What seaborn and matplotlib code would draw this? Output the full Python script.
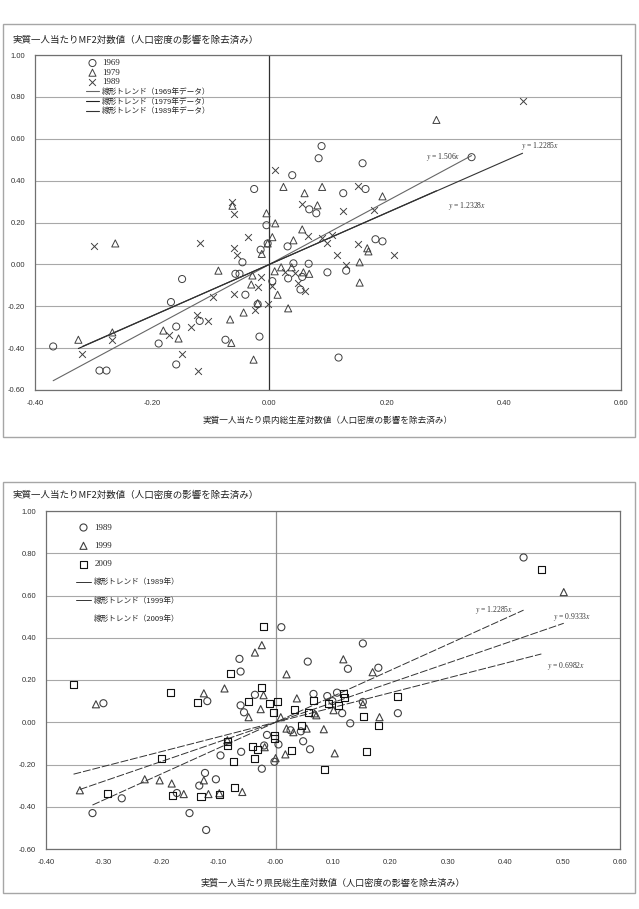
import numpy as np
import seaborn as sns
import matplotlib.pyplot as plt
from matplotlib.patches import Rectangle

# values
x1969 = [-0.369, -0.290, -0.278, -0.149, -0.168, -0.189, -0.159, -0.159, -0.119, -0.075,
         -0.046, -0.058, -0.051, -0.041, -0.026, -0.015, -0.020, 0.005, 0.032, 0.041,
         0.056, 0.067, 0.053, 0.099, 0.131, 0.118, -0.017, 0.089, 0.084, 0.159,
         0.039, 0.126, 0.164, 0.068, 0.080, -0.005, -0.003, 0.031, 0.181, 0.193, 0.345]
y1969 = [-0.392, -0.507, -0.507, -0.070, -0.180, -0.378, -0.297, -0.478, -0.270, -0.360,
         0.010, -0.045, -0.045, -0.145, 0.360, 0.070, -0.190, -0.080, -0.067, 0.005,
         -0.060, 0.003, -0.120, -0.038, -0.030, -0.445, -0.345, 0.565, 0.507, 0.483,
         0.426, 0.340, 0.360, 0.263, 0.244, 0.187, 0.100, 0.086, 0.120, 0.110, 0.512]

x1979 = [-0.326, -0.263, -0.268, -0.181, -0.155, -0.087, -0.067, -0.065, -0.063, -0.044,
         -0.013, -0.029, -0.031, -0.020, 0.032, 0.014, 0.009, 0.020, 0.038, 0.058,
         0.068, 0.154, 0.154, 0.169, -0.027, 0.024, 0.090, 0.060, 0.193, 0.082,
         -0.005, 0.010, 0.005, -0.003, 0.056, 0.041, 0.167, 0.285]
y1979 = [-0.360, 0.100, -0.325, -0.316, -0.354, -0.030, -0.263, -0.375, 0.280, -0.230,
         0.050, -0.053, -0.096, -0.185, -0.210, -0.145, -0.033, -0.014, -0.014, -0.038,
         -0.045, 0.010, -0.087, 0.062, -0.455, 0.370, 0.370, 0.340, 0.325, 0.282,
         0.244, 0.196, 0.130, 0.100, 0.167, 0.115, 0.077, 0.690]

x1989 = [-0.319, -0.300, -0.268, -0.172, -0.150, -0.119, -0.133, -0.123, -0.104, -0.121,
         -0.096, -0.063, -0.061, -0.061, -0.055, -0.060, -0.036, -0.015, -0.020, -0.024,
         -0.002, 0.005, 0.026, 0.044, 0.048, 0.060, 0.116, 0.130, 0.213, 0.432,
         0.010, 0.152, 0.056, 0.126, 0.179, 0.066, 0.090, 0.152, 0.099, 0.107]
y1989 = [-0.430, 0.090, -0.360, -0.335, -0.430, 0.100, -0.300, -0.240, -0.270, -0.510,
         -0.157, 0.300, 0.240, 0.080, 0.047, -0.140, 0.130, -0.060, -0.110, -0.220,
         -0.187, -0.105, -0.038, -0.043, -0.090, -0.128, 0.043, -0.005, 0.043, 0.780,
         0.450, 0.373, 0.287, 0.253, 0.258, 0.134, 0.124, 0.096, 0.100, 0.140]

x1999 = [-0.341, -0.313, -0.228, -0.202, -0.181, -0.160, -0.125, -0.125, -0.117, -0.098,
         -0.089, -0.058, -0.036, -0.024, -0.021, -0.026, -0.047, -0.019, 0.000, 0.019,
         0.009, 0.019, 0.017, 0.031, 0.037, 0.054, 0.068, 0.118, 0.169, 0.071,
         0.101, 0.181, 0.084, 0.103, -0.084, 0.502, 0.152]
y1999 = [-0.322, 0.085, -0.270, -0.275, -0.290, -0.340, 0.137, -0.275, -0.340, -0.336,
         0.160, -0.330, 0.330, 0.365, 0.128, 0.062, 0.024, -0.118, -0.170, 0.227,
         0.024, -0.030, -0.152, -0.047, 0.113, -0.030, 0.042, 0.298, 0.237, 0.033,
         0.057, 0.024, -0.033, -0.147, -0.085, 0.616, 0.085]

x2009 = [-0.352, -0.293, -0.199, -0.183, -0.180, -0.136, -0.130, -0.098, -0.084, -0.084,
         -0.078, -0.073, -0.071, -0.047, -0.040, -0.037, -0.031, -0.024, -0.010, -0.004,
         0.003, -0.002, -0.002, 0.028, 0.033, 0.045, 0.057, 0.066, -0.021, 0.213,
         0.118, 0.092, 0.110, 0.153, 0.179, 0.158, 0.085, 0.463, 0.120]
y2009 = [0.180, -0.337, -0.170, 0.142, -0.346, 0.095, -0.350, -0.340, -0.090, -0.110,
         0.232, -0.185, -0.308, 0.100, -0.114, -0.170, -0.128, 0.166, 0.090, 0.047,
         0.100, -0.062, -0.077, -0.133, 0.062, -0.014, 0.047, 0.104, 0.455, 0.120,
         0.137, 0.090, 0.080, 0.028, -0.014, -0.137, -0.223, 0.725, 0.115]

years_top = ["1969", "1979", "1989"]
years_bottom = ["1989", "1999", "2009"]
slopes_top = [1.506, 1.2328, 1.2285]
slopes_bottom = [1.2285, 0.9333, 0.6982]
trend_labels_top = ["線形トレンド（1969年データ）", "線形トレンド（1979年データ）", "線形トレンド（1989年データ）"]
trend_labels_bottom = ["線形トレンド（1989年）", "線形トレンド（1999年）", "線形トレンド（2009年）"]

title = "実質一人当たりMF2対数値（人口密度の影響を除去済み）"
xlabel_top = "実質一人当たり県内総生産対数値（人口密度の影響を除去済み）"
xlabel_bottom = "実質一人当たり県民総生産対数値（人口密度の影響を除去済み）"

sns.set_style("white")
plt.rcParams['font.family'] = ['Noto Sans CJK JP', 'DejaVu Sans']
plt.rcParams['mathtext.fontset'] = 'stix'

W, H = 639, 909
fig = plt.figure(figsize=(W / 100, H / 100), dpi=100)


def fx(px):
    return px / W


def fy(py):
    return 1 - py / H


def setup_axes(ax, xstep, zero_color):
    yt = np.arange(-0.6, 1.01, 0.2)
    xt = np.arange(-0.4, 0.61, xstep)
    ax.set_xlim(-0.4, 0.6)
    ax.set_ylim(-0.6, 1.0)
    ax.set_yticks(yt)
    ax.set_yticklabels([f"{v:.2f}" for v in yt], fontfamily='Liberation Sans',
                       fontsize=5.5, color='#333333')
    ax.set_xticks(xt)
    ax.set_xticklabels([f"{v:.2f}" for v in xt], fontfamily='Liberation Sans',
                       fontsize=5.5, color='#333333')
    ax.tick_params(length=0, pad=7)
    ax.grid(axis='y', color='#a8a8a8', lw=0.8)
    ax.set_axisbelow(True)
    for s in ax.spines.values():
        s.set_color('#707070')
        s.set_linewidth(0.9)
    ax.axvline(0, color=zero_color, lw=0.9, zorder=1)
    ax.set_xlabel("")
    ax.set_ylabel("")


def style_legend(ax, loc_xy, spacing, hlen):
    handles, labels = ax.get_legend_handles_labels()
    leg = ax.legend(handles, labels, loc='upper left', bbox_to_anchor=loc_xy,
                    frameon=False, borderpad=0, borderaxespad=0, fontsize=5.5,
                    handlelength=hlen, handletextpad=0.4, labelspacing=spacing)
    for t in leg.get_texts()[:3]:
        t.set_fontfamily('Liberation Serif')
        t.set_fontsize(6.5)
    return leg


# top panel
ax1 = fig.add_axes([fx(35), fy(390), fx(586), 335 / H])
top_series = [(x1969, y1969), (x1979, y1979), (x1989, y1989)]
for (xs, ys), yr, m in zip(top_series, years_top, ['o', '^', 'x']):
    if m == 'x':
        sns.scatterplot(x=xs, y=ys, marker=m, s=24, color='#404040', linewidth=0.7,
                        ax=ax1, label=yr, zorder=3)
    else:
        sns.scatterplot(x=xs, y=ys, marker=m, s=26, facecolor='none', edgecolor='#404040',
                        linewidth=0.7, ax=ax1, label=yr, zorder=3)
for (xs, ys), k, lab, c in zip(top_series, slopes_top, trend_labels_top, ['#666666', '#222222', '#333333']):
    xr = np.array([min(xs), max(xs)])
    sns.lineplot(x=xr, y=k * xr, color=c, lw=0.8, ax=ax1, label=lab, legend=False, zorder=2)
setup_axes(ax1, 0.2, '#303030')
leg1 = style_legend(ax1, (0.087, 0.988), 0.22, 1.7)
for h in leg1.legend_handles[:2]:
    h.set_facecolor('none')

eq_style = dict(fontsize=5.5, fontfamily='Liberation Serif', color='#333333', va='center')
ax1.text(0.268, 0.512, f"$y$ = {slopes_top[0]}$x$", **eq_style)
ax1.text(0.305, 0.277, f"$y$ = {slopes_top[1]}$x$", **eq_style)
ax1.text(0.430, 0.565, f"$y$ = {slopes_top[2]}$x$", **eq_style)

# bottom panel
ax2 = fig.add_axes([fx(46), fy(849), fx(574), 338 / H])
bottom_series = [(x1989, y1989), (x1999, y1999), (x2009, y2009)]
for (xs, ys), yr, m, ec in zip(bottom_series, years_bottom, ['o', '^', 's'], ['#404040', '#404040', '#111111']):
    sns.scatterplot(x=xs, y=ys, marker=m, s=26, facecolor='none', edgecolor=ec,
                    linewidth=0.8, ax=ax2, label=yr, zorder=3)
for (xs, ys), k, lab in zip(bottom_series, slopes_bottom, trend_labels_bottom):
    xr = np.array([min(xs), max(xs)])
    sns.lineplot(x=xr, y=k * xr, color='#333333', lw=0.7, ax=ax2, label=lab, legend=False, zorder=2)
    ax2.lines[-1].set_dashes([8, 2])
setup_axes(ax2, 0.1, '#909090')
leg2 = style_legend(ax2, (0.052, 0.963), 1.35, 2.0)
for h in leg2.legend_handles[:3]:
    h.set_facecolor('none')
for ln in leg2.get_lines():
    ln.set_dashes([])
    ln.set_linestyle('-')
leg2.get_lines()[-1].set_visible(False)

ax2.text(0.348, 0.531, f"$y$ = {slopes_bottom[0]}$x$", **eq_style)
ax2.text(0.484, 0.498, f"$y$ = {slopes_bottom[1]}$x$", **eq_style)
ax2.text(0.472, 0.265, f"$y$ = {slopes_bottom[2]}$x$", **eq_style)

# frames, titles, axis captions
for top, bottom in [(24, 437), (482, 893)]:
    fig.add_artist(Rectangle((fx(3), fy(bottom)), fx(632), (bottom - top) / H,
                             transform=fig.transFigure, fill=False, ec='#a6a6a6', lw=1))
fig.text(fx(13), fy(40), title, fontsize=6.8, va='center', color='#222222')
fig.text(fx(13), fy(495), title, fontsize=6.8, va='center', color='#222222')
fig.text(fx(328), fy(420), xlabel_top, fontsize=6.2, ha='center', va='center', color='#222222')
fig.text(fx(333), fy(883), xlabel_bottom, fontsize=6.6, ha='center', va='center', color='#222222')

fig.savefig("out.png", dpi=100)
